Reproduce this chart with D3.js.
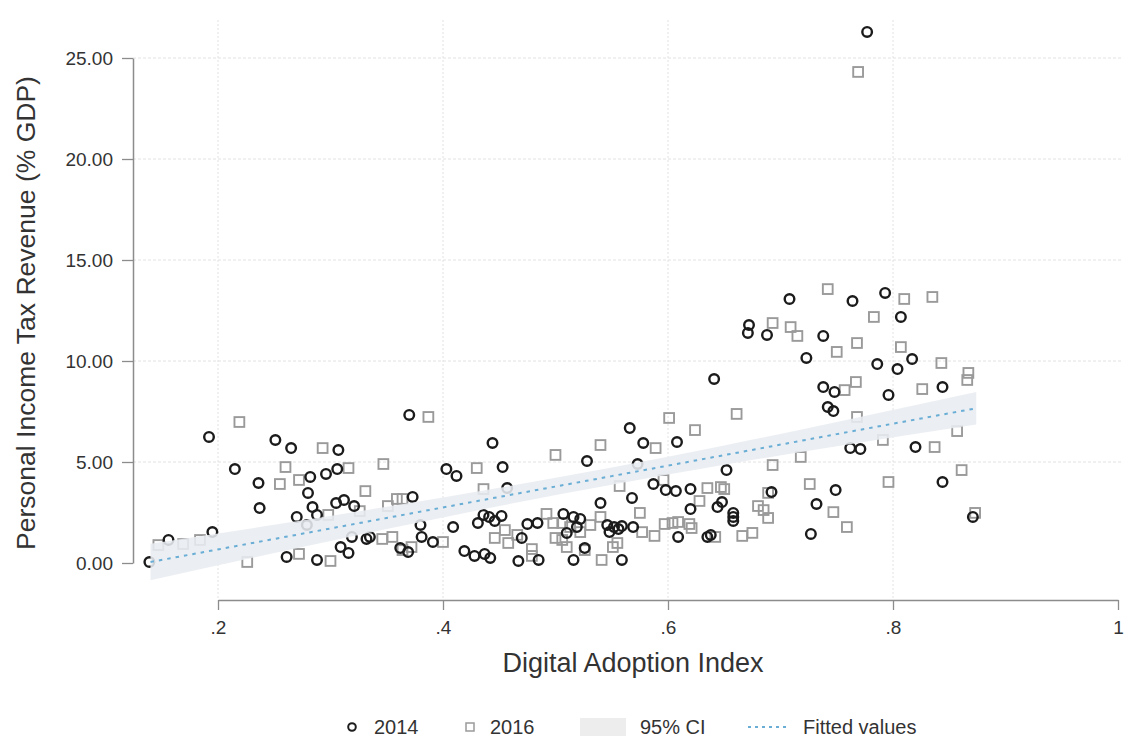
<!DOCTYPE html>
<html>
<head>
<meta charset="utf-8">
<script src="https://cdn.jsdelivr.net/npm/d3@7/dist/d3.min.js"></script>
<style>
  html, body { margin: 0; padding: 0; background: #fff; }
  svg { display: block; font-family: "Liberation Sans", Arial, Helvetica, sans-serif; }
</style>
</head>
<body>
<svg id="chart" width="1138" height="742"></svg>
<script>
// ---- data ----
const dai2014 = [0.139,0.156,0.192,0.195,0.215,0.236,0.237,0.251,0.265,0.282,0.296,0.306,0.307,0.280,0.284,0.305,0.312,0.321,0.270,0.288,0.279,0.261,0.288,0.309,0.316,0.319,0.332,0.370,0.335,0.373,0.362,0.369,0.380,0.381,0.391,0.403,0.412,0.409,0.444,0.453,0.457,0.431,0.436,0.441,0.446,0.452,0.419,0.428,0.437,0.442,0.467,0.485,0.475,0.484,0.470,0.528,0.507,0.516,0.522,0.510,0.519,0.526,0.516,0.540,0.546,0.548,0.552,0.556,0.559,0.559,0.566,0.578,0.608,0.587,0.598,0.607,0.620,0.568,0.569,0.620,0.644,0.648,0.658,0.658,0.658,0.609,0.635,0.638,0.652,0.641,0.692,0.727,0.732,0.749,0.742,0.747,0.708,0.764,0.793,0.672,0.671,0.688,0.738,0.807,0.723,0.786,0.804,0.817,0.738,0.748,0.844,0.796,0.771,0.762,0.820,0.844,0.871,0.777,0.573];
const pit2014 = [0.05,1.14,6.24,1.53,4.65,3.96,2.72,6.09,5.69,4.26,4.41,4.65,5.59,3.47,2.77,2.97,3.12,2.82,2.28,2.38,1.88,0.30,0.15,0.79,0.50,1.29,1.19,7.33,1.29,3.27,0.74,0.54,1.88,1.29,1.04,4.65,4.31,1.78,5.94,4.75,3.71,1.98,2.38,2.28,2.08,2.33,0.59,0.35,0.45,0.25,0.10,0.15,1.93,1.98,1.24,5.05,2.43,2.28,2.18,1.49,1.78,0.74,0.15,2.97,1.88,1.53,1.78,1.68,1.83,0.15,6.68,5.94,5.99,3.91,3.61,3.56,3.66,3.22,1.78,2.67,2.77,3.02,2.48,2.28,2.08,1.29,1.29,1.39,4.60,9.11,3.51,1.44,2.92,3.61,7.72,7.52,13.07,12.97,13.37,11.78,11.39,11.29,11.24,12.18,10.15,9.85,9.60,10.10,8.71,8.47,8.71,8.32,5.64,5.69,5.74,4.01,2.28,26.29,4.90];

const dai2016 = [0.219,0.260,0.293,0.316,0.272,0.255,0.331,0.326,0.298,0.272,0.300,0.147,0.169,0.184,0.226,0.347,0.387,0.359,0.364,0.351,0.346,0.355,0.364,0.372,0.400,0.430,0.436,0.500,0.540,0.492,0.446,0.455,0.458,0.466,0.479,0.479,0.498,0.506,0.513,0.522,0.531,0.540,0.500,0.506,0.510,0.526,0.551,0.541,0.555,0.601,0.661,0.624,0.589,0.693,0.718,0.596,0.635,0.647,0.650,0.557,0.628,0.680,0.685,0.689,0.689,0.726,0.747,0.759,0.575,0.577,0.588,0.597,0.604,0.609,0.619,0.621,0.642,0.666,0.675,0.742,0.810,0.835,0.783,0.693,0.709,0.715,0.768,0.750,0.807,0.843,0.867,0.866,0.767,0.757,0.826,0.768,0.857,0.791,0.837,0.861,0.796,0.873,0.769];
const pit2016 = [6.98,4.75,5.69,4.70,4.11,3.91,3.56,2.57,2.38,0.45,0.10,0.89,0.94,1.14,0.05,4.90,7.23,3.17,3.17,2.82,1.19,1.29,0.64,0.79,1.04,4.70,3.66,5.35,5.84,2.43,1.24,1.63,0.99,1.39,0.69,0.35,1.98,1.98,1.78,1.53,1.88,2.28,1.24,1.14,0.79,0.64,0.79,0.15,0.99,7.18,7.38,6.58,5.69,4.85,5.25,4.11,3.71,3.76,3.66,3.81,3.07,2.82,2.62,2.23,3.47,3.91,2.52,1.78,2.48,1.53,1.34,1.93,1.98,2.03,1.93,1.73,1.29,1.34,1.49,13.56,13.07,13.17,12.18,11.88,11.68,11.24,10.89,10.45,10.69,9.90,9.41,9.06,8.96,8.56,8.61,7.23,6.53,6.09,5.74,4.60,4.01,2.48,24.31];

// fitted values and 95% CI read at several points along the x axis
const fitX  = [0.14, 0.25, 0.35, 0.45, 0.55, 0.65, 0.75, 0.874];
const fitY  = [0.05, 1.19, 2.23, 3.27, 4.30, 5.34, 6.38, 7.66];
const ciLo  = [-0.85, 0.49, 1.68, 2.82, 3.87, 4.86, 5.78, 6.86];
const ciHi  = [0.95, 1.89, 2.78, 3.72, 4.73, 5.82, 6.98, 8.46];

const yTicks = [0, 5, 10, 15, 20, 25];
const xTicks = [0.2, 0.4, 0.6, 0.8, 1];
const xTickLabels = [".2", ".4", ".6", ".8", "1"];
const legendLabels = ["2014", "2016", "95% CI", "Fitted values"];

// ---- drawing ----
const svg = d3.select("#chart");
svg.append("rect").attr("width", 1138).attr("height", 742).attr("fill", "#fff");

const x = d3.scaleLinear().domain([0.2, 1]).range([218, 1118]);
const y = d3.scaleLinear().domain([0, 25]).range([563, 58]);

// grid
const grid = svg.append("g");
grid.selectAll("line.hg").data(yTicks.filter(d => d > 0)).join("line")
  .attr("x1", 133).attr("x2", 1122)
  .attr("y1", d => y(d)).attr("y2", d => y(d))
  .attr("stroke", "#e2e2e2").attr("stroke-width", 1).attr("stroke-dasharray", "3,2");
grid.selectAll("line.vg").data(xTicks.filter(d => d < 1)).join("line")
  .attr("x1", d => x(d)).attr("x2", d => x(d))
  .attr("y1", 20).attr("y2", 600)
  .attr("stroke", "#e2e2e2").attr("stroke-width", 1).attr("stroke-dasharray", "2,2");

// points
const pts16 = dai2016.map((d, i) => ({x: d, y: pit2016[i]}));
const pts14 = dai2014.map((d, i) => ({x: d, y: pit2014[i]}));
const sq = 9.8;
svg.append("g").selectAll("rect").data(pts16).join("rect")
  .attr("x", d => x(d.x) - sq / 2).attr("y", d => y(d.y) - sq / 2)
  .attr("width", sq).attr("height", sq)
  .attr("fill", "none").attr("stroke", "#9a9a9a").attr("stroke-width", 1.9);
svg.append("g").selectAll("circle").data(pts14).join("circle")
  .attr("cx", d => x(d.x)).attr("cy", d => y(d.y)).attr("r", 4.8)
  .attr("fill", "none").attr("stroke", "#1b1b1b").attr("stroke-width", 2.4);

// CI band (drawn over the points)
const band = fitX.map((d, i) => ({x: d, lo: ciLo[i], hi: ciHi[i], f: fitY[i]}));
svg.append("path").datum(band)
  .attr("d", d3.area().x(d => x(d.x)).y0(d => y(d.lo)).y1(d => y(d.hi)).curve(d3.curveMonotoneX))
  .attr("fill", "#e8ecf0").attr("fill-opacity", 0.88);
svg.append("path").datum(band)
  .attr("d", d3.line().x(d => x(d.x)).y(d => y(d.f)))
  .attr("fill", "none").attr("stroke", "#6aaed6").attr("stroke-width", 2)
  .attr("stroke-dasharray", "3.5,5");

// axes
const yAxis = svg.append("g").attr("transform", "translate(133,0)")
  .call(d3.axisLeft(y).tickValues(yTicks).tickFormat(d3.format(".2f")).tickSize(11).tickSizeOuter(0).tickPadding(9));
const xAxis = svg.append("g").attr("transform", "translate(0,600)")
  .call(d3.axisBottom(x).tickValues(xTicks).tickFormat((d, i) => xTickLabels[i]).tickSize(10).tickSizeOuter(0).tickPadding(11));
[yAxis, xAxis].forEach(a => {
  a.select(".domain").attr("stroke", "#8c8c8c").attr("stroke-width", 1.5);
  a.selectAll(".tick line").attr("stroke", "#8c8c8c").attr("stroke-width", 1.3);
  a.selectAll(".tick text").attr("fill", "#333").style("font-size", "19px")
    .style("font-family", "'Liberation Sans', Arial, sans-serif");
});

// titles
svg.append("text").attr("x", 633).attr("y", 672).attr("text-anchor", "middle")
  .attr("fill", "#333").style("font-size", "27px").text("Digital Adoption Index");
svg.append("text").attr("transform", "translate(35,313) rotate(-90)").attr("text-anchor", "middle")
  .attr("fill", "#333").style("font-size", "26.5px").text("Personal Income Tax Revenue (% GDP)");

// legend
const ly = 727;
const lg = svg.append("g").style("font-size", "20px").attr("fill", "#333");
lg.append("circle").attr("cx", 352).attr("cy", ly).attr("r", 3.8)
  .attr("fill", "none").attr("stroke", "#1e1e1e").attr("stroke-width", 2);
lg.append("text").attr("x", 374).attr("y", ly + 7).text(legendLabels[0]);
lg.append("rect").attr("x", 466).attr("y", ly - 4).attr("width", 8).attr("height", 8)
  .attr("fill", "none").attr("stroke", "#9a9a9a").attr("stroke-width", 1.5);
lg.append("text").attr("x", 490).attr("y", ly + 7).text(legendLabels[1]);
lg.append("rect").attr("x", 580).attr("y", ly - 9).attr("width", 46).attr("height", 18)
  .attr("fill", "#ededed");
lg.append("text").attr("x", 640).attr("y", ly + 7).text(legendLabels[2]);
lg.append("line").attr("x1", 748).attr("x2", 790).attr("y1", ly).attr("y2", ly)
  .attr("stroke", "#6aaed6").attr("stroke-width", 2).attr("stroke-dasharray", "3,4");
lg.append("text").attr("x", 803).attr("y", ly + 7).text(legendLabels[3]);
</script>
</body>
</html>
